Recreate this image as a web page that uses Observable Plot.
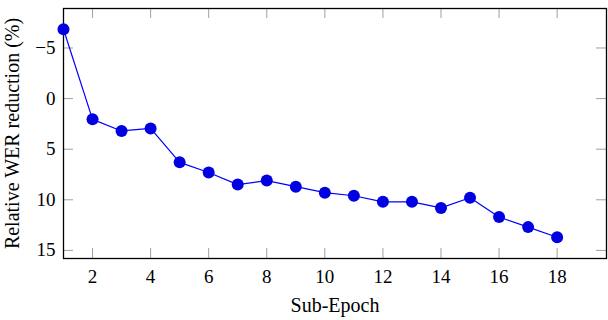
<!DOCTYPE html>
<html>
<head>
<meta charset="utf-8">
<script src="https://cdn.jsdelivr.net/npm/d3@7"></script>
<script src="https://cdn.jsdelivr.net/npm/@observablehq/plot@0.6"></script>
<style>
  html, body { margin: 0; padding: 0; background: white; }
</style>
</head>
<body>
<div id="chart"></div>
<script>
const subEpochs = [1, 2, 3, 4, 5, 6, 7, 8, 9, 10, 11, 12, 13, 14, 15, 16, 17, 18];
const werReduction = [-6.85, 2.05, 3.2, 2.95, 6.3, 7.3, 8.5, 8.1, 8.7, 9.3, 9.6, 10.2, 10.2, 10.8, 9.8, 11.7, 12.7, 13.7];
const xTicks = [2, 4, 6, 8, 10, 12, 14, 16, 18];
const yTicks = [-5, 0, 5, 10, 15];
const xLabel = "Sub-Epoch";
const yLabel = "Relative WER reduction (%)";

const data = subEpochs.map((x, i) => ({x, y: werReduction[i]}));

const W = 608, H = 320, mL = 63, mR = 2, mT = 8, mB = 62;
const fw = W - mL - mR, fh = H - mT - mB;
const tl = 10;
const tickColor = "#a0a0a0";
const serif = "Liberation Serif";
const fmt = d => d < 0 ? "\u2212" + (-d) : String(d);

const chart = Plot.plot({
  width: W, height: H,
  marginLeft: mL, marginRight: mR, marginTop: mT, marginBottom: mB,
  style: "font-family: 'Liberation Serif', serif; font-size: 19px; color: black; background: white;",
  x: {domain: [1, 19.7], axis: null},
  y: {domain: [-8.9, 15.8], reverse: true, axis: null},
  marks: [
    Plot.ruleX(xTicks, {x: d => d, stroke: tickColor, insetTop: fh - tl}),
    Plot.ruleX(xTicks, {x: d => d, stroke: tickColor, insetBottom: fh - tl}),
    Plot.ruleY(yTicks, {y: d => d, stroke: tickColor, insetRight: fw - tl}),
    Plot.ruleY(yTicks, {y: d => d, stroke: tickColor, insetLeft: fw - tl}),
    Plot.frame({stroke: "black", strokeWidth: 1.3}),
    Plot.text(xTicks, {x: d => d, text: d => fmt(d), frameAnchor: "bottom", dy: 18, textAnchor: "middle", lineAnchor: "middle", fontSize: 19, fontFamily: serif, fontVariant: "normal", fill: "black"}),
    Plot.text(yTicks, {y: d => d, text: d => fmt(d), frameAnchor: "left", dx: -8, textAnchor: "end", lineAnchor: "middle", fontSize: 19, fontFamily: serif, fontVariant: "normal", fill: "black"}),
    Plot.text([xLabel], {text: d => d, frameAnchor: "bottom", dy: 47, textAnchor: "middle", lineAnchor: "middle", fontSize: 20, fontFamily: serif, fill: "black"}),
    Plot.text([yLabel], {text: d => d, frameAnchor: "left", dx: -51, rotate: -90, textAnchor: "middle", lineAnchor: "middle", fontSize: 20, fontFamily: serif, fill: "black"}),
    Plot.line(data, {x: "x", y: "y", stroke: "#0000ff", strokeWidth: 1.2}),
    Plot.dot(data, {x: "x", y: "y", r: 6, fill: "#0000e0", stroke: "none"})
  ]
});
document.getElementById("chart").append(chart);
</script>
</body>
</html>
